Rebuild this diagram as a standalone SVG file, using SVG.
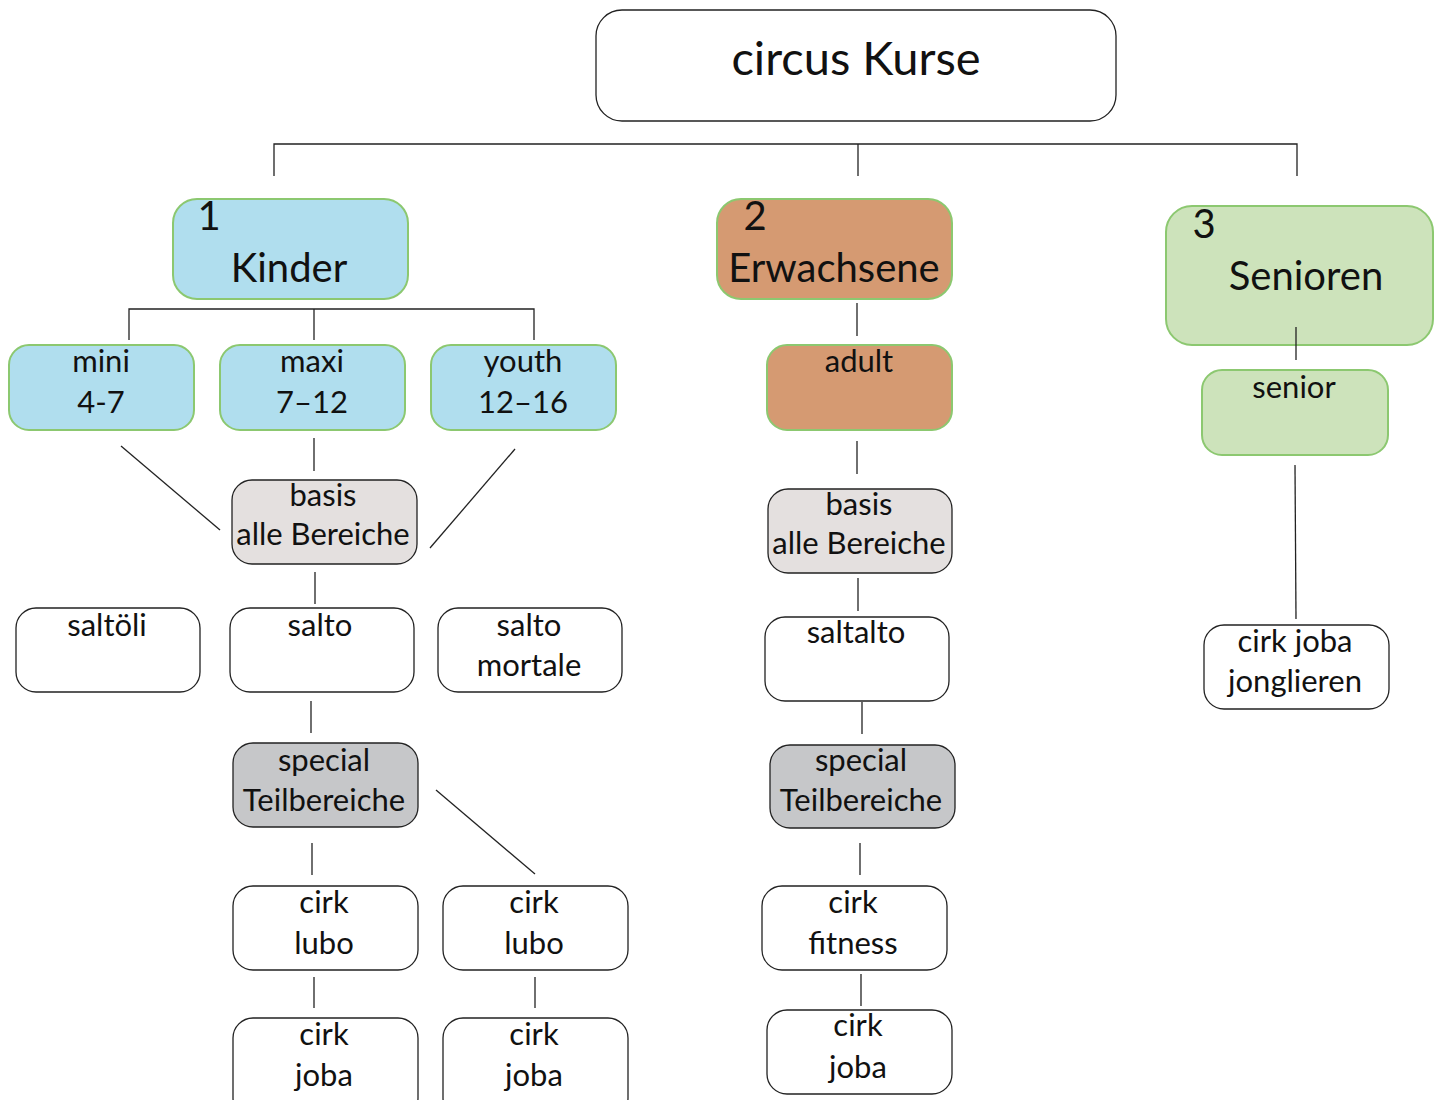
<svg xmlns="http://www.w3.org/2000/svg" width="1441" height="1100" viewBox="0 0 1441 1100">
<style>
text{font-family:Lato,"Open Sans","Liberation Sans",sans-serif;fill:#111;text-anchor:middle}
.w{fill:#fff;stroke:#222;stroke-width:1.3}
.bl{fill:#b0deee;stroke:#8cc870;stroke-width:2}
.br{fill:#d59a72;stroke:#8cc870;stroke-width:2}
.gr{fill:#cde3bb;stroke:#8cc870;stroke-width:2}
.g1{fill:#e4e0df;stroke:#222;stroke-width:1.3}
.g2{fill:#c6c7c9;stroke:#222;stroke-width:1.3}
.t{font-size:31px}
.h{font-size:40px}
#c line,#c polyline{stroke:#222;stroke-width:1.3;fill:none}
</style>
<g id="root"><rect class="w" x="596" y="10" width="520" height="111" rx="26"/><text x="856" y="75" style="font-size:47px">circus Kurse</text></g>
<g id="kinder"><rect class="bl" x="173" y="199" width="235" height="100" rx="24"/><text x="209" y="230" class="h">1</text><text x="289" y="282" class="h">Kinder</text></g>
<g id="mini"><rect class="bl" x="9" y="345" width="185" height="85" rx="20"/><text x="101" y="372" class="t">mini</text><text x="101" y="413" class="t">4-7</text></g>
<g id="maxi"><rect class="bl" x="220" y="345" width="185" height="85" rx="20"/><text x="312" y="372" class="t">maxi</text><text x="312" y="413" class="t">7–12</text></g>
<g id="youth"><rect class="bl" x="431" y="345" width="185" height="85" rx="20"/><text x="523" y="372" class="t">youth</text><text x="523" y="413" class="t">12–16</text></g>
<g id="basisK"><rect class="g1" x="232" y="480" width="185" height="84" rx="20"/><text x="323" y="506" class="t">basis</text><text x="323" y="545" class="t">alle Bereiche</text></g>
<g id="saltoeli"><rect class="w" x="16" y="608" width="184" height="84" rx="20"/><text x="107" y="636" class="t">saltöli</text></g>
<g id="salto"><rect class="w" x="230" y="608" width="184" height="84" rx="20"/><text x="320" y="636" class="t">salto</text></g>
<g id="saltomortale"><rect class="w" x="438" y="608" width="184" height="84" rx="20"/><text x="529" y="636" class="t">salto</text><text x="529" y="676" class="t">mortale</text></g>
<g id="specialK"><rect class="g2" x="233" y="743" width="185" height="84" rx="20"/><text x="324" y="771" class="t">special</text><text x="324" y="811" class="t">Teilbereiche</text></g>
<g id="lubo1"><rect class="w" x="233" y="886" width="185" height="84" rx="20"/><text x="324" y="913" class="t">cirk</text><text x="324" y="954" class="t">lubo</text></g>
<g id="lubo2"><rect class="w" x="443" y="886" width="185" height="84" rx="20"/><text x="534" y="913" class="t">cirk</text><text x="534" y="954" class="t">lubo</text></g>
<g id="joba1"><rect class="w" x="233" y="1018" width="185" height="100" rx="20"/><text x="324" y="1045" class="t">cirk</text><text x="324" y="1086" class="t">joba</text></g>
<g id="joba2"><rect class="w" x="443" y="1018" width="185" height="100" rx="20"/><text x="534" y="1045" class="t">cirk</text><text x="534" y="1086" class="t">joba</text></g>
<g id="erwachsene"><rect class="br" x="717" y="199" width="235" height="100" rx="24"/><text x="755" y="230" class="h">2</text><text x="834" y="282" class="h">Erwachsene</text></g>
<g id="adult"><rect class="br" x="767" y="345" width="185" height="85" rx="20"/><text x="859" y="372" class="t">adult</text></g>
<g id="basisE"><rect class="g1" x="768" y="489" width="184" height="84" rx="20"/><text x="859" y="515" class="t">basis</text><text x="859" y="554" class="t">alle Bereiche</text></g>
<g id="saltalto"><rect class="w" x="765" y="617" width="184" height="84" rx="20"/><text x="856" y="643" class="t">saltalto</text></g>
<g id="specialE"><rect class="g2" x="770" y="745" width="185" height="83" rx="20"/><text x="861" y="771" class="t">special</text><text x="861" y="811" class="t">Teilbereiche</text></g>
<g id="fitness"><rect class="w" x="762" y="886" width="185" height="84" rx="20"/><text x="853" y="913" class="t">cirk</text><text x="853" y="954" class="t">fitness</text></g>
<g id="jobaE"><rect class="w" x="767" y="1010" width="185" height="84" rx="20"/><text x="858" y="1036" class="t">cirk</text><text x="858" y="1078" class="t">joba</text></g>
<g id="senioren"><rect class="gr" x="1166" y="206" width="267" height="139" rx="26"/><text x="1204" y="238" class="h">3</text><text x="1306" y="290" class="h">Senioren</text></g>
<g id="senior"><rect class="gr" x="1202" y="370" width="186" height="85" rx="20"/><text x="1294" y="398" class="t">senior</text></g>
<g id="jonglieren"><rect class="w" x="1204" y="625" width="185" height="84" rx="20"/><text x="1295" y="652" class="t">cirk joba</text><text x="1295" y="692" class="t">jonglieren</text></g>
<g id="c">
<polyline points="274,176 274,144 1297,144 1297,176"/>
<line x1="858" y1="144" x2="858" y2="176"/>
<polyline points="129,340 129,309 534,309 534,340"/>
<line x1="314" y1="309" x2="314" y2="340"/>
<line x1="121" y1="446" x2="220" y2="530"/>
<line x1="314" y1="438" x2="314" y2="471"/>
<line x1="515" y1="449" x2="430" y2="548"/>
<line x1="315" y1="572" x2="315" y2="604"/>
<line x1="311" y1="701" x2="311" y2="733"/>
<line x1="312" y1="843" x2="312" y2="875"/>
<line x1="436" y1="790" x2="535" y2="874"/>
<line x1="314" y1="977" x2="314" y2="1008"/>
<line x1="535" y1="977" x2="535" y2="1008"/>
<line x1="857" y1="303" x2="857" y2="336"/>
<line x1="857" y1="441" x2="857" y2="474"/>
<line x1="858" y1="578" x2="858" y2="611"/>
<line x1="862" y1="702" x2="862" y2="734"/>
<line x1="860" y1="843" x2="860" y2="875"/>
<line x1="861" y1="974" x2="861" y2="1006"/>
<line x1="1296" y1="327" x2="1296" y2="360"/>
<line x1="1295" y1="465" x2="1296" y2="619"/>
</g>
</svg>
